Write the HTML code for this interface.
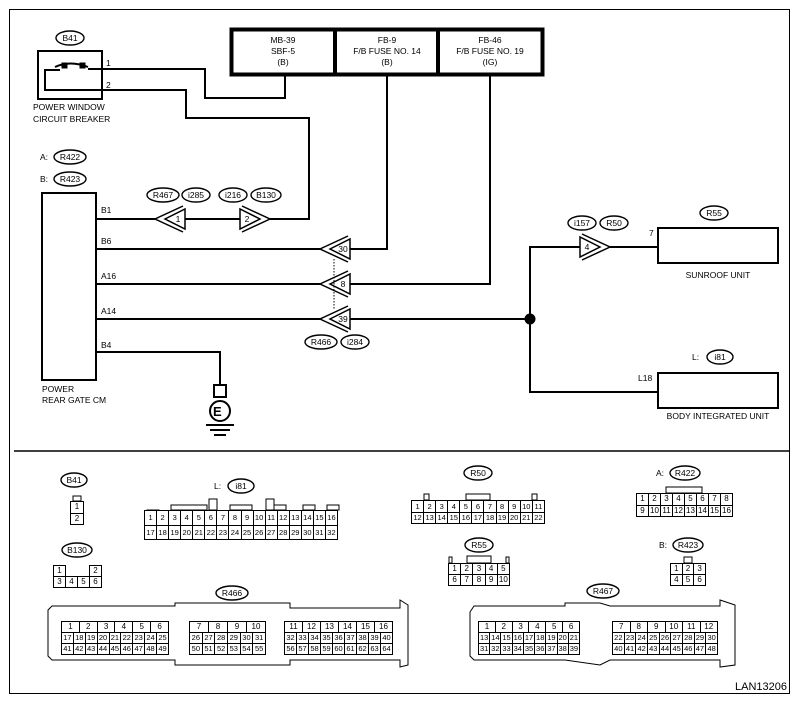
<!DOCTYPE html><html><head><meta charset="utf-8"><style>
body{margin:0;background:#fff;}
#w{position:relative;width:803px;height:703px;overflow:hidden;font-family:"Liberation Sans",sans-serif;}
svg{position:absolute;left:0;top:0}
table.g{position:absolute;border-collapse:collapse;table-layout:fixed;font-size:8px;background:#fff}
table.g td{border:1px solid #000;text-align:center;padding:0;line-height:1;}
</style></head><body><div id="w">
<svg width="803" height="703" font-family="Liberation Sans, sans-serif" font-size="8.5">
<g fill="none" stroke="#000">
<rect x="9.5" y="9.5" width="780" height="684" stroke-width="1"/>
<line x1="14" y1="451" x2="789" y2="451" stroke-width="1.5"/>
<rect x="231.5" y="29.5" width="311" height="45" stroke-width="4"/>
<line x1="335" y1="30" x2="335" y2="74" stroke-width="4"/>
<line x1="438" y1="30" x2="438" y2="74" stroke-width="4"/>
<g stroke-width="2">
<rect x="38" y="51" width="64" height="48"/>
<polyline points="88,69 205,69 205,98 285,98 285,75"/>
<polyline points="60,70 45,70 45,90 186,90 186,118 309,118 309,219 270,219"/>
<path d="M55,67 Q70,60 88,67"/>
<rect x="42" y="193" width="54" height="187"/>
<line x1="96" y1="219" x2="155" y2="219"/><line x1="185" y1="219" x2="240" y2="219"/>
<line x1="96" y1="249" x2="320" y2="249"/><polyline points="350,249 387,249 387,75"/>
<line x1="96" y1="284" x2="320" y2="284"/><polyline points="350,284 490,284 490,75"/>
<line x1="96" y1="319" x2="320" y2="319"/><line x1="350" y1="319" x2="530" y2="319"/>
<polyline points="530,319 530,247 580,247"/><line x1="610" y1="247" x2="658" y2="247"/>
<polyline points="530,319 530,392 658,392"/>
<rect x="658" y="228" width="120" height="35"/>
<rect x="658" y="373" width="120" height="35"/>
<polyline points="96,352 220,352 220,385"/>
<rect x="214" y="385" width="12" height="12"/>
<circle cx="220" cy="411" r="10"/>
<line x1="206" y1="425" x2="234" y2="425"/><line x1="210" y1="430" x2="230" y2="430"/><line x1="214" y1="435" x2="226" y2="435"/>
</g>
<g stroke-width="1.5">
<polygon points="165,219 185,209 185,229"/><polyline points="183,206 155,219 183,232"/>
<polygon points="260,219 240,209 240,229"/><polyline points="242,206 270,219 242,232"/>
<polygon points="330,249 350,239 350,259"/><polyline points="348,236 320,249 348,262"/>
<polygon points="330,284 350,274 350,294"/><polyline points="348,271 320,284 348,297"/>
<polygon points="330,319 350,309 350,329"/><polyline points="348,306 320,319 348,332"/>
<polygon points="600,247 580,237 580,257"/><polyline points="582,234 610,247 582,260"/>
</g>
<line x1="334" y1="259" x2="334" y2="309" stroke-width="1" stroke-dasharray="1.5,1.5"/>
<circle cx="530" cy="319" r="5" fill="#000"/>
<rect x="62" y="63" width="5" height="5" fill="#000"/><rect x="80" y="63" width="5" height="5" fill="#000"/>
<g stroke-width="1.4">
<ellipse cx="70" cy="38" rx="14" ry="7"/>
<ellipse cx="70" cy="157" rx="16" ry="7"/><ellipse cx="70" cy="179" rx="16" ry="7"/>
<ellipse cx="163" cy="195" rx="16" ry="7"/><ellipse cx="196" cy="195" rx="14" ry="7"/>
<ellipse cx="233" cy="195" rx="14" ry="7"/><ellipse cx="266" cy="195" rx="15" ry="7"/>
<ellipse cx="321" cy="342" rx="16" ry="7"/><ellipse cx="355" cy="342" rx="14" ry="7"/>
<ellipse cx="582" cy="223" rx="14" ry="7"/><ellipse cx="614" cy="223" rx="14" ry="7"/>
<ellipse cx="714" cy="213" rx="14" ry="7"/><ellipse cx="720" cy="357" rx="13" ry="7"/>
<ellipse cx="74" cy="480" rx="13" ry="7"/><ellipse cx="77" cy="550" rx="15" ry="7"/>
<ellipse cx="241" cy="486" rx="13" ry="7"/><ellipse cx="232" cy="593" rx="16" ry="7"/>
<ellipse cx="478" cy="473" rx="14" ry="7"/><ellipse cx="479" cy="545" rx="14" ry="7"/>
<ellipse cx="685" cy="473" rx="15" ry="7"/><ellipse cx="688" cy="545" rx="15" ry="7"/>
<ellipse cx="603" cy="591" rx="16" ry="7"/>
</g>
<g stroke-width="1">
<rect x="73" y="496" width="8" height="5"/>
<path d="M48,610 L52,606 L175,606 L175,603 L290,603 L290,608 L400,608 L400,600 L408,605 L408,665 L400,667 L400,660 L290,660 L290,665 L175,665 L175,660 L52,660 L48,656 Z"/>
<path d="M470,612 L474,606 L565,606 L565,603 L600,603 L610,606 L720,606 L720,600 L735,605 L735,665 L720,667 L720,660 L610,660 L600,665 L565,660 L474,660 L470,656 Z"/>
<rect x="147" y="510" width="12" height="6"/><rect x="171" y="505" width="36" height="5"/><rect x="209" y="499" width="8" height="11"/><rect x="230" y="505" width="22" height="5"/><rect x="266" y="499" width="8" height="11"/><rect x="274" y="505" width="12" height="5"/><rect x="303" y="505" width="12" height="5"/><rect x="327" y="505" width="12" height="5"/>
<rect x="424" y="494" width="5" height="6"/><rect x="466" y="494" width="24" height="6"/><rect x="532" y="494" width="5" height="6"/>
<rect x="666" y="487" width="36" height="6"/><rect x="684" y="557" width="8" height="6"/>
<rect x="467" y="556" width="24" height="7"/><rect x="449" y="557" width="3" height="6"/><rect x="506" y="557" width="3" height="6"/>
<rect x="69" y="571" width="12" height="6"/>
</g>
</g>
<g fill="#000">
<text x="70" y="41" text-anchor="middle">B41</text>
<g text-anchor="middle"><text x="283" y="43">MB-39</text><text x="283" y="54">SBF-5</text><text x="283" y="65">(B)</text>
<text x="387" y="43">FB-9</text><text x="387" y="54">F/B FUSE NO. 14</text><text x="387" y="65">(B)</text>
<text x="490" y="43">FB-46</text><text x="490" y="54">F/B FUSE NO. 19</text><text x="490" y="65">(IG)</text></g>
<text x="106" y="66">1</text><text x="106" y="88">2</text>
<text x="33" y="110">POWER WINDOW</text><text x="33" y="122">CIRCUIT BREAKER</text>
<text x="40" y="160">A:</text><text x="40" y="182">B:</text>
<g text-anchor="middle"><text x="70" y="160">R422</text><text x="70" y="182">R423</text>
<text x="163" y="198">R467</text><text x="196" y="198">i285</text><text x="233" y="198">i216</text><text x="266" y="198">B130</text>
<text x="321" y="345">R466</text><text x="355" y="345">i284</text>
<text x="582" y="226">i157</text><text x="614" y="226">R50</text><text x="714" y="216">R55</text><text x="720" y="360">i81</text>
<text x="178" y="222">1</text><text x="247" y="222">2</text><text x="343" y="252">30</text><text x="343" y="287">8</text><text x="343" y="322">39</text><text x="587" y="250">4</text>
<text x="718" y="278">SUNROOF UNIT</text><text x="718" y="419">BODY INTEGRATED UNIT</text>
<text x="74" y="483">B41</text><text x="77" y="553">B130</text><text x="241" y="489">i81</text><text x="232" y="596">R466</text>
<text x="478" y="476">R50</text><text x="479" y="548">R55</text><text x="685" y="476">R422</text><text x="688" y="548">R423</text><text x="603" y="594">R467</text></g>
<text x="101" y="213">B1</text><text x="101" y="244">B6</text><text x="101" y="279">A16</text><text x="101" y="314">A14</text><text x="101" y="348">B4</text>
<text x="42" y="392">POWER</text><text x="42" y="403">REAR GATE CM</text>
<text x="649" y="236">7</text><text x="692" y="360">L:</text><text x="638" y="381">L18</text>
<text x="214" y="489">L:</text><text x="656" y="476">A:</text><text x="659" y="548">B:</text>
<text x="213" y="416" font-size="13" font-weight="bold">E</text>
<text x="735" y="690" font-size="11">LAN13206</text>
</g>
</svg>

<table class="g" style="left:70px;top:501px;width:14px;height:24px"><tr><td>1</td></tr><tr><td>2</td></tr></table>

<table class="g" style="left:53px;top:565px;width:49px;height:23px"><tr><td>1</td><td style="border:none;border-bottom:1px solid #000"></td><td style="border:none;border-bottom:1px solid #000"></td><td>2</td></tr><tr><td>3</td><td>4</td><td>5</td><td>6</td></tr></table>

<table class="g" style="left:144px;top:510px;width:194px;height:30px;font-size:7.5px"><tr><td>1</td><td>2</td><td>3</td><td>4</td><td>5</td><td>6</td><td>7</td><td>8</td><td>9</td><td>10</td><td>11</td><td>12</td><td>13</td><td>14</td><td>15</td><td>16</td></tr><tr><td>17</td><td>18</td><td>19</td><td>20</td><td>21</td><td>22</td><td>23</td><td>24</td><td>25</td><td>26</td><td>27</td><td>28</td><td>29</td><td>30</td><td>31</td><td>32</td></tr></table>

<table class="g" style="left:411px;top:500px;width:134px;height:24px;font-size:7.5px"><tr><td>1</td><td>2</td><td>3</td><td>4</td><td>5</td><td>6</td><td>7</td><td>8</td><td>9</td><td>10</td><td>11</td></tr><tr><td>12</td><td>13</td><td>14</td><td>15</td><td>16</td><td>17</td><td>18</td><td>19</td><td>20</td><td>21</td><td>22</td></tr></table>

<table class="g" style="left:448px;top:563px;width:62px;height:23px"><tr><td>1</td><td>2</td><td>3</td><td>4</td><td>5</td></tr><tr><td>6</td><td>7</td><td>8</td><td>9</td><td>10</td></tr></table>

<table class="g" style="left:636px;top:493px;width:97px;height:24px"><tr><td>1</td><td>2</td><td>3</td><td>4</td><td>5</td><td>6</td><td>7</td><td>8</td></tr><tr><td>9</td><td>10</td><td>11</td><td>12</td><td>13</td><td>14</td><td>15</td><td>16</td></tr></table>

<table class="g" style="left:670px;top:563px;width:36px;height:23px"><tr><td>1</td><td>2</td><td>3</td></tr><tr><td>4</td><td>5</td><td>6</td></tr></table>

<table class="g" style="left:61px;top:621px;width:108px;height:12px"><tr><td>1</td><td>2</td><td>3</td><td>4</td><td>5</td><td>6</td></tr></table>
<table class="g" style="left:61px;top:632px;width:108px;height:23px;font-size:7.5px"><tr><td>17</td><td>18</td><td>19</td><td>20</td><td>21</td><td>22</td><td>23</td><td>24</td><td>25</td></tr><tr><td>41</td><td>42</td><td>43</td><td>44</td><td>45</td><td>46</td><td>47</td><td>48</td><td>49</td></tr></table>
<table class="g" style="left:189px;top:621px;width:77px;height:12px"><tr><td>7</td><td>8</td><td>9</td><td>10</td></tr></table>
<table class="g" style="left:189px;top:632px;width:77px;height:23px;font-size:7.5px"><tr><td>26</td><td>27</td><td>28</td><td>29</td><td>30</td><td>31</td></tr><tr><td>50</td><td>51</td><td>52</td><td>53</td><td>54</td><td>55</td></tr></table>
<table class="g" style="left:284px;top:621px;width:109px;height:12px"><tr><td>11</td><td>12</td><td>13</td><td>14</td><td>15</td><td>16</td></tr></table>
<table class="g" style="left:284px;top:632px;width:109px;height:23px;font-size:7.5px"><tr><td>32</td><td>33</td><td>34</td><td>35</td><td>36</td><td>37</td><td>38</td><td>39</td><td>40</td></tr><tr><td>56</td><td>57</td><td>58</td><td>59</td><td>60</td><td>61</td><td>62</td><td>63</td><td>64</td></tr></table>

<table class="g" style="left:478px;top:621px;width:102px;height:12px"><tr><td>1</td><td>2</td><td>3</td><td>4</td><td>5</td><td>6</td></tr></table>
<table class="g" style="left:478px;top:632px;width:102px;height:23px;font-size:7.5px"><tr><td>13</td><td>14</td><td>15</td><td>16</td><td>17</td><td>18</td><td>19</td><td>20</td><td>21</td></tr><tr><td>31</td><td>32</td><td>33</td><td>34</td><td>35</td><td>36</td><td>37</td><td>38</td><td>39</td></tr></table>
<table class="g" style="left:612px;top:621px;width:106px;height:12px"><tr><td>7</td><td>8</td><td>9</td><td>10</td><td>11</td><td>12</td></tr></table>
<table class="g" style="left:612px;top:632px;width:106px;height:23px;font-size:7.5px"><tr><td>22</td><td>23</td><td>24</td><td>25</td><td>26</td><td>27</td><td>28</td><td>29</td><td>30</td></tr><tr><td>40</td><td>41</td><td>42</td><td>43</td><td>44</td><td>45</td><td>46</td><td>47</td><td>48</td></tr></table>
</div></body></html>
